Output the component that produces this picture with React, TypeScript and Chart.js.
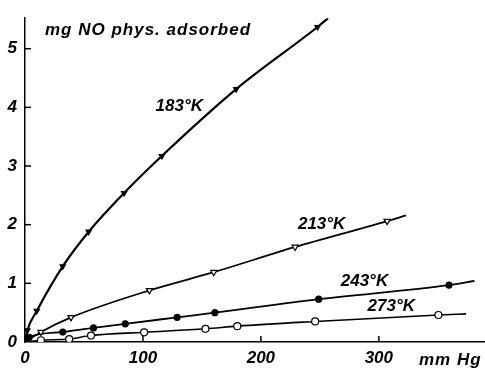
import React, { useEffect, useRef } from "react";
import { Chart, registerables } from "chart.js";

Chart.register(...registerables);

// Axis ticks
const xTicks = [0, 100, 200, 300];
const yTicks = [0, 1, 2, 3, 4, 5];

// 183 °K (filled triangles) — first and last points are curve ends (no marker)
const k183X = [0, 2, 10, 32, 54, 84, 116, 179, 248, 257];
const k183Y = [0, 0.2, 0.53, 1.29, 1.88, 2.54, 3.17, 4.31, 5.37, 5.52];

// 213 °K (open triangles)
const k213X = [0, 13.5, 39, 105.5, 160, 229, 307, 323];
const k213Y = [0, 0.17, 0.42, 0.88, 1.19, 1.62, 2.06, 2.16];

// 243 °K (filled circles)
const k243X = [0, 3.5, 32, 58, 85, 129, 161, 249, 359.5, 381];
const k243Y = [0, 0.08, 0.17, 0.24, 0.31, 0.42, 0.5, 0.73, 0.97, 1.04];

// 273 °K (open circles)
const k273X = [0, 13.5, 37.5, 56, 101, 153, 180, 246, 350.5, 374];
const k273Y = [0, 0.03, 0.05, 0.11, 0.165, 0.225, 0.27, 0.35, 0.46, 0.48];

const seriesLabels = ["183°K", "213°K", "243°K", "273°K"];
const yTitle = "mg NO phys. adsorbed";
const xTitle = "mm Hg";

const FONT = "'Liberation Sans', Arial, sans-serif";

function pts(xs: number[], ys: number[]) {
  return xs.map((x, i) => ({ x, y: ys[i] }));
}
function radii(xs: number[], r: number) {
  return xs.map((_, i) => (i === 0 || i === xs.length - 1 ? 0 : r));
}

const annotate = {
  id: "annotate",
  afterDraw(chart: any) {
    const { ctx, chartArea, scales } = chart;
    const xs = scales.x;
    const ys = scales.y;
    ctx.save();
    ctx.strokeStyle = "#000";
    ctx.lineWidth = 1.5;
    // inward tick marks
    xTicks.forEach((v) => {
      if (v === 0) return;
      const px = xs.getPixelForValue(v);
      ctx.beginPath();
      ctx.moveTo(px, chartArea.bottom);
      ctx.lineTo(px, chartArea.bottom - 6);
      ctx.stroke();
    });
    yTicks.forEach((v) => {
      if (v === 0) return;
      const py = ys.getPixelForValue(v);
      ctx.beginPath();
      ctx.moveTo(chartArea.left, py);
      ctx.lineTo(chartArea.left + 6, py);
      ctx.stroke();
    });
    ctx.fillStyle = "#000";
    ctx.textBaseline = "middle";
    ctx.textAlign = "center";
    // curve labels
    const labelPos = [
      [130.8, 4.01],
      [251.5, 2.01],
      [287.8, 1.04],
      [310.5, 0.6],
    ];
    ctx.font = `italic bold 17px ${FONT}`;
    seriesLabels.forEach((t, i) => {
      ctx.fillText(t, xs.getPixelForValue(labelPos[i][0]), ys.getPixelForValue(labelPos[i][1]));
    });
    // axis titles
    (ctx as any).letterSpacing = "1px";
    ctx.textAlign = "left";
    ctx.fillText(yTitle, chartArea.left + 20, chartArea.top + 12);
    ctx.fillText(xTitle, xs.getPixelForValue(334), chartArea.bottom + 18);
    (ctx as any).letterSpacing = "0px";
    ctx.restore();
  },
};

export default function App() {
  const ref = useRef<HTMLCanvasElement>(null);
  useEffect(() => {
    document.body.style.margin = "0";
    const canvas = ref.current!;
    const mk = (
      label: string,
      xs: number[],
      ys: number[],
      style: string,
      rot: number,
      r: number,
      fill: string,
      lw: number
    ) => ({
      label,
      data: pts(xs, ys),
      borderColor: "#000",
      borderWidth: lw,
      pointStyle: style,
      rotation: rot,
      pointRadius: radii(xs, r),
      pointBackgroundColor: fill,
      pointBorderColor: "#000",
      pointBorderWidth: 1.2,
      cubicInterpolationMode: "monotone",
      fill: false,
    });
    const chart = new Chart(canvas, {
      type: "line",
      data: {
        datasets: [
          mk(seriesLabels[0], k183X, k183Y, "triangle", 180, 3, "#000", 2.2),
          mk(seriesLabels[1], k213X, k213Y, "triangle", 180, 3.5, "#fff", 1.8),
          mk(seriesLabels[2], k243X, k243Y, "circle", 0, 3, "#000", 1.8),
          mk(seriesLabels[3], k273X, k273Y, "circle", 0, 3.5, "#fff", 1.6),
        ] as any,
      },
      options: {
        animation: false,
        responsive: false,
        layout: { padding: { top: 13, right: 0, left: 0, bottom: 0 } },
        plugins: { legend: { display: false }, tooltip: { enabled: false } },
        scales: {
          x: {
            type: "linear",
            min: 0,
            max: 390,
            afterBuildTicks: (s: any) => {
              s.ticks = xTicks.map((v) => ({ value: v }));
            },
            afterFit: (s: any) => {
              s.height = 26;
            },
            grid: { display: true, drawOnChartArea: false, drawTicks: false, color: "rgba(0,0,0,0)" },
            border: { display: true, color: "#000", width: 1.5 },
            ticks: {
              color: "#000",
              padding: 6,
              maxRotation: 0,
              font: { family: FONT, size: 17, style: "italic", weight: "bold" },
              callback: (v: any) => String(v),
            },
          },
          y: {
            type: "linear",
            min: 0,
            max: 5.52,
            afterBuildTicks: (s: any) => {
              s.ticks = yTicks.map((v) => ({ value: v }));
            },
            afterFit: (s: any) => {
              s.width = 25;
            },
            grid: { display: true, drawOnChartArea: false, drawTicks: false, color: "rgba(0,0,0,0)" },
            border: { display: true, color: "#000", width: 1.5 },
            ticks: {
              color: "#000",
              padding: 8,
              font: { family: FONT, size: 17, style: "italic", weight: "bold" },
              callback: (v: any) => String(v),
            },
          },
        },
      } as any,
      plugins: [annotate],
    });
    return () => chart.destroy();
  }, []);
  return <canvas ref={ref} width={485} height={368} style={{ display: "block" }} />;
}
